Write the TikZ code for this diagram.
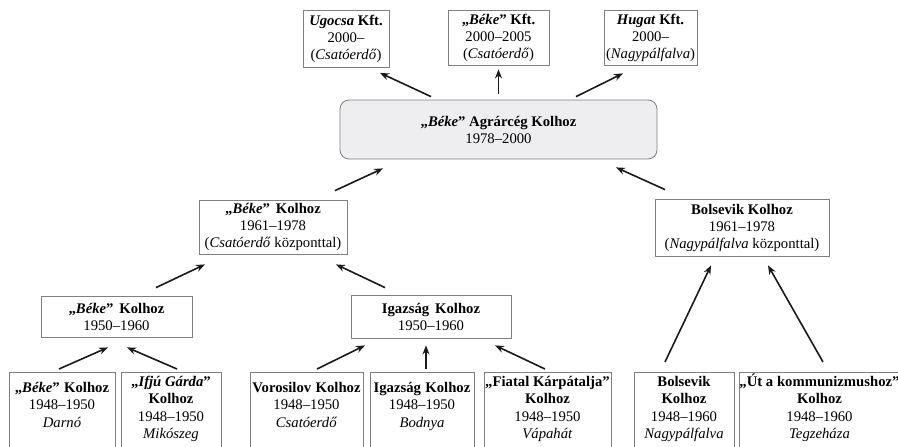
\documentclass[tikz,border=0pt]{standalone}
\usepackage{fontspec}
\setmainfont{Liberation Serif}
\usetikzlibrary{arrows.meta,calc}
\definecolor{boxline}{HTML}{808080}
\definecolor{mainfill}{HTML}{EEEEF0}
\definecolor{arrowcol}{HTML}{1A1A1A}
\newcommand{\toplines}[1]{\begin{tabular}[t]{@{}c@{}}#1\end{tabular}}
\begin{document}
\begin{tikzpicture}[x=1pt,y=-1pt,
 box/.style={draw=boxline, line width=0.8pt, fill=white, align=center, inner sep=0pt,
   font=\fontsize{14.7}{17}\selectfont},
 mainbox/.style={box, fill=mainfill, rounded corners=9pt},
 lowbox/.style={draw=boxline, line width=0.8pt, fill=white, inner sep=0pt, anchor=north,
   font=\fontsize{14.7}{17.5}\selectfont, text depth=90pt},
 lowthree/.style={lowbox, text height=20pt},
 lowfour/.style={lowbox, text height=14pt},
 arr/.style={draw=arrowcol, line width=1.6pt, -{Stealth[length=9pt,width=7pt]}}]
\clip (0,0) rectangle (898,447);
\fill[white] (0,0) rectangle (898,447);
% top level
\node[box, minimum width=86, minimum height=57] (ugocsa) at (346,39)
  {\textbf{\textit{Ugocsa} Kft.}\\2000–\\(\textit{Csatóerdő})};
\node[box, minimum width=101, minimum height=55] (bekekft) at (498.5,37.5)
  {\textbf{„\textit{Béke}” Kft.}\\2000–2005\\(\textit{Csatóerdő})};
\node[box, minimum width=93, minimum height=55] (hugat) at (650.5,37.5)
  {\textbf{\textit{Hugat} Kft.}\\2000–\\(\textit{Nagypálfalva})};
\node[mainbox, minimum width=317, minimum height=59] (main) at (498.5,129.5)
  {\textbf{„\textit{Béke}” Agrárcég Kolhoz}\\1978–2000};
% second level
\node[box, minimum width=148, minimum height=54] (beke61) at (273,227)
  {\textbf{„\textit{Béke}”\hspace{0.4em}Kolhoz}\\1961–1978\\(\textit{Csatóerdő} központtal)};
\node[box, minimum width=174, minimum height=57] (bolsevik61) at (742,227.5)
  {\textbf{Bolsevik Kolhoz}\\1961–1978\\(\textit{Nagypálfalva} központtal)};
% third level
\node[box, minimum width=151, minimum height=41] (beke50) at (116.5,316.5)
  {\textbf{„\textit{Béke}”\hspace{0.4em}Kolhoz}\\1950–1960};
\node[box, minimum width=160, minimum height=43] (igazsag50) at (431,317)
  {\textbf{Igazság\hspace{0.4em}Kolhoz}\\1950–1960};
% bottom level
\node[lowthree, minimum width=106] (darno) at (62,372)
  {\toplines{\textbf{„\textit{Béke}”\hspace{0.3em}Kolhoz}\\1948–1950\\\textit{Darnó}}};
\node[lowfour, minimum width=100] (ifju) at (171,372)
  {\toplines{\textbf{„\textit{Ifjú Gárda}”}\\\textbf{Kolhoz}\\1948–1950\\\textit{Mikószeg}}};
\node[lowthree, minimum width=113] (vorosilov) at (306.5,372)
  {\toplines{\textbf{Vorosilov\hspace{0.3em}Kolhoz}\\1948–1950\\\textit{Csatóerdő}}};
\node[lowthree, minimum width=104] (bodnya) at (422,372)
  {\toplines{\textbf{Igazság\hspace{0.3em}Kolhoz}\\1948–1950\\\textit{Bodnya}}};
\node[lowfour, minimum width=127] (fiatal) at (547.5,372)
  {\toplines{\textbf{„Fiatal Kárpátalja”}\\\textbf{Kolhoz}\\1948–1950\\\textit{Vápahát}}};
\node[lowfour, minimum width=100] (bolsevik48) at (684,372)
  {\toplines{\textbf{Bolsevik}\\\textbf{Kolhoz}\\1948–1960\\\textit{Nagypálfalva}}};
\node[lowfour, minimum width=155] (ut) at (819.5,372)
  {\toplines{\textbf{„Út a kommunizmushoz”}\\\textbf{Kolhoz}\\1948–1960\\\textit{Tegzeháza}}};
% arrows
\draw[arr] ($(main.north)+(-67.5,-3)$) -- ($(ugocsa.south)+(34,5)$);
\draw[arr] ($(main.north)+(0,-6)$) -- ($(bekekft.south)+(0,4)$);
\draw[arr] ($(main.north)+(77.5,-3)$) -- ($(hugat.south)+(-27.5,8)$);
\draw[arr] ($(beke61.north)+(62,-9)$) -- ($(main.south)+(-115.5,9)$);
\draw[arr] ($(bolsevik61.north)+(-77,-9)$) -- ($(main.south)+(117.5,8)$);
\draw[arr] ($(beke50.north)+(39.5,-8)$) -- ($(beke61.south)+(-68,10)$);
\draw[arr] ($(igazsag50.north)+(-46,-7.5)$) -- ($(beke61.south)+(63,10)$);
\draw[arr] ($(darno.north)+(-3,-3)$) -- ($(beke50.south)+(-8.5,10)$);
\draw[arr] ($(ifju.north)+(6,-3)$) -- ($(beke50.south)+(10.5,10)$);
\draw[arr] ($(vorosilov.north)+(10.5,-3)$) -- ($(igazsag50.south)+(-66,6.5)$);
\draw[arr] ($(bodnya.north)+(4,-3)$) -- ($(igazsag50.south)+(-5,6.5)$);
\draw[arr] ($(fiatal.north)+(-2.5,-3)$) -- ($(igazsag50.south)+(64,6.5)$);
\draw[arr] ($(bolsevik48.north)+(-19,-10)$) -- ($(bolsevik61.south)+(-31,9)$);
\draw[arr] ($(ut.north)+(3.5,-10)$) -- ($(bolsevik61.south)+(26,9)$);
\end{tikzpicture}
\end{document}
